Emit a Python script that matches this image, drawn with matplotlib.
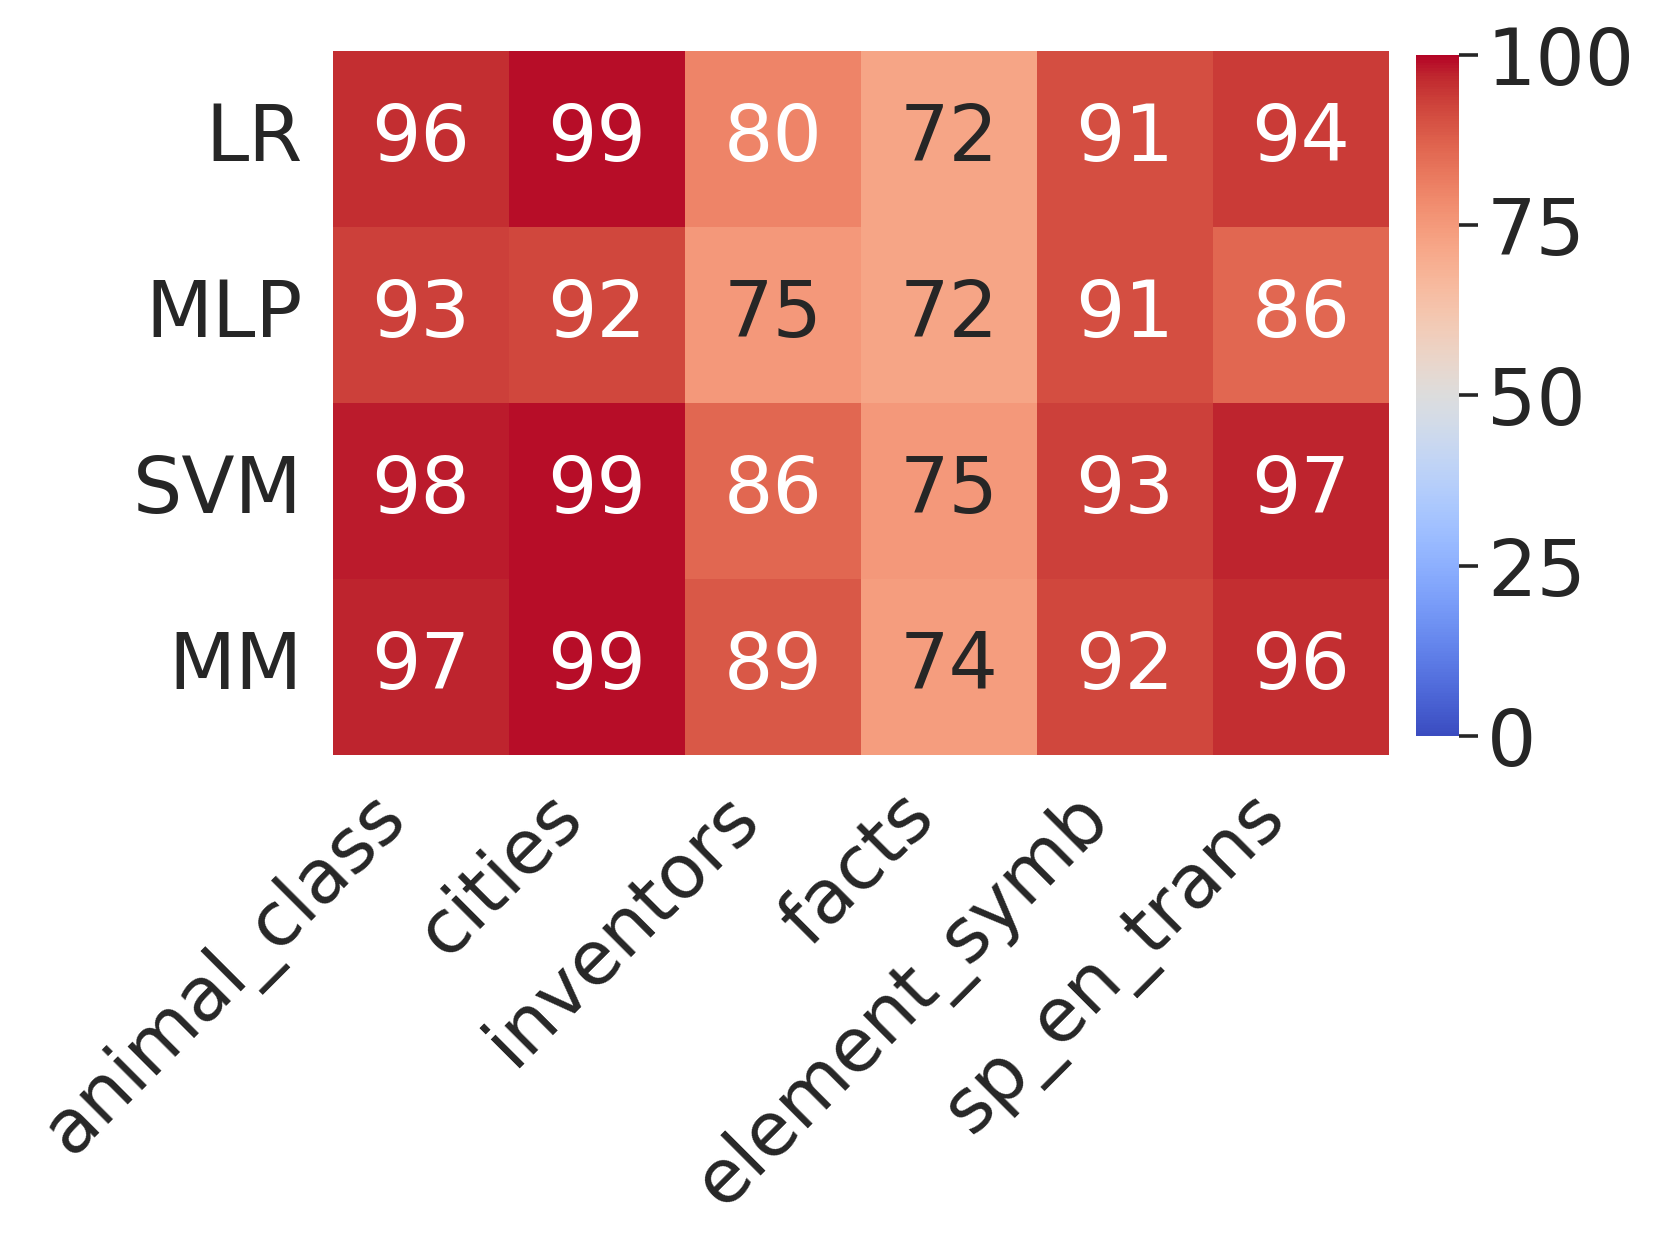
import matplotlib

matplotlib.use("Agg")
import matplotlib.pyplot as plt
import numpy as np
import pandas as pd
import seaborn as sns

# accuracy (%) per probe method and dataset
datasets = ["animal_class", "cities", "inventors", "facts", "element_symb", "sp_en_trans"]
methods = ["LR", "MLP", "SVM", "MM"]
lr_acc = [96, 99, 80, 72, 91, 94]
mlp_acc = [93, 92, 75, 72, 91, 86]
svm_acc = [98, 99, 86, 75, 93, 97]
mm_acc = [97, 99, 89, 74, 92, 96]
cbar_ticks = [0, 25, 50, 75, 100]

df = pd.DataFrame([lr_acc, mlp_acc, svm_acc, mm_acc], index=methods, columns=datasets)

sns.set_theme(style="white")
plt.rcParams["font.family"] = ["DejaVu Sans"]
fs = 28

fig = plt.figure(figsize=(8.3, 6.3), dpi=200)
ax = fig.add_axes((0.2006, 0.401, 0.636, 0.5585))
cax = fig.add_axes((0.853, 0.416, 0.026, 0.5405))

sns.heatmap(
    df, ax=ax, cbar_ax=cax, cmap="coolwarm", vmin=0, vmax=100,
    annot=True, fmt="d", annot_kws={"size": fs},
)

# no visible tick marks on the grid, but labels sit well clear of it
ax.tick_params(axis="y", length=0, pad=11, labelsize=fs, colors="#262626")
ax.tick_params(axis="x", length=0, pad=9, labelsize=27, colors="#262626")
plt.setp(ax.get_xticklabels(), rotation=45, ha="right")
plt.setp(ax.get_yticklabels(), rotation=0)

cax.set_yticks(cbar_ticks)
cax.tick_params(axis="y", right=True, length=7, width=1.3, labelsize=fs,
                colors="#262626", pad=3)

fig.savefig("out.png", dpi=200)
